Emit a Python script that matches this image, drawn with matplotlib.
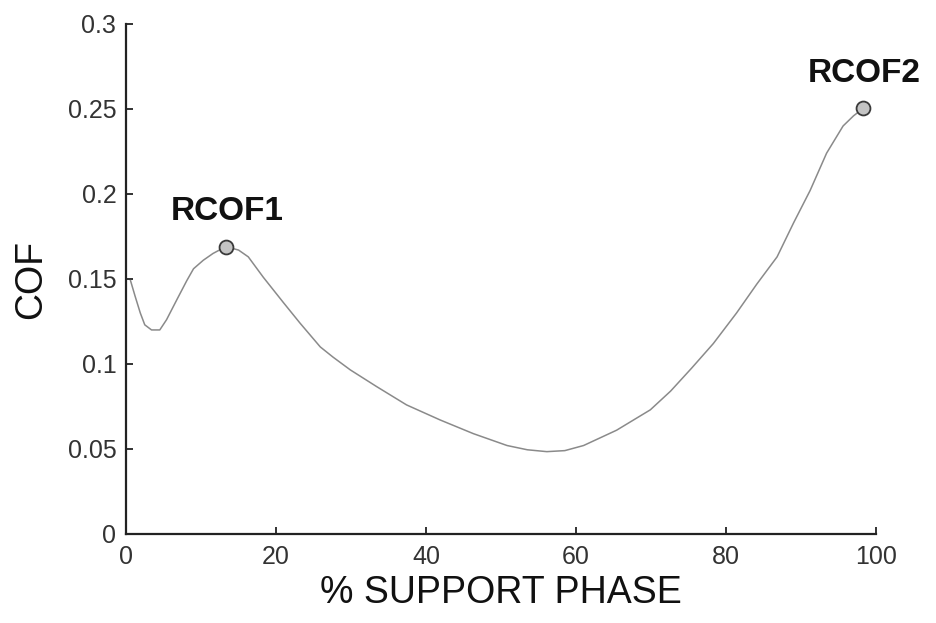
import matplotlib
matplotlib.use("Agg")
import matplotlib.pyplot as plt
from matplotlib.ticker import FuncFormatter

# COF over the support phase
phase = [0.6, 1.2, 1.9, 2.5, 3.4, 4.5, 5.4, 6.8, 8.1, 9.0, 10.3, 11.6, 13.3,
         15.0, 16.3, 18.3, 21.0, 23.2, 25.9, 27.6, 29.9, 33.4, 37.4, 41.9,
         46.3, 50.8, 53.5, 56.1, 58.5, 61.0, 65.4, 69.9, 72.6, 75.4, 78.3,
         81.4, 84.1, 86.8, 89.0, 91.2, 93.4, 95.6, 97.0, 98.3]
cof = [0.149, 0.140, 0.130, 0.123, 0.120, 0.120, 0.126, 0.138, 0.149, 0.156,
       0.161, 0.165, 0.169, 0.167, 0.163, 0.151, 0.136, 0.124, 0.110, 0.104,
       0.0965, 0.0867, 0.0759, 0.067, 0.059, 0.052, 0.0495, 0.0484, 0.049,
       0.052, 0.061, 0.073, 0.084, 0.0975, 0.112, 0.130, 0.147, 0.163, 0.183,
       0.202, 0.224, 0.240, 0.246, 0.2504]

# required COF peaks
peak_names = ["RCOF1", "RCOF2"]
peak_x = [13.3, 98.3]
peak_y = [0.169, 0.2504]

x_ticks = [0, 20, 40, 60, 80, 100]
y_ticks = [0, 0.05, 0.1, 0.15, 0.2, 0.25, 0.3]

plt.rcParams["font.family"] = ["Liberation Sans", "DejaVu Sans"]

fig = plt.figure(figsize=(9.37, 6.23), dpi=100)
ax = fig.add_axes([0.1345, 0.143, 0.8005, 0.8185])

ax.plot(phase, cof, color="#8a8a8a", linewidth=1.1, zorder=2,
        solid_joinstyle="round")
ax.plot(peak_x, peak_y, "o", markersize=10, markerfacecolor="#c4c4c4",
        markeredgecolor="#3a3a3a", markeredgewidth=1.3, zorder=3)

for name, px, py in zip(peak_names, peak_x, peak_y):
    ax.annotate(name, (px, py), xytext=(1, 25), textcoords="offset points",
                ha="center", va="center", fontsize=24, fontweight="bold",
                color="#111111", annotation_clip=False)

ax.set_xlim(0, 100)
ax.set_ylim(0, 0.3)
ax.set_xticks(x_ticks)
ax.set_yticks(y_ticks)
ax.yaxis.set_major_formatter(FuncFormatter(lambda v, p: f"{v:g}"))

for side in ["top", "right"]:
    ax.spines[side].set_visible(False)
for side in ["left", "bottom"]:
    ax.spines[side].set_linewidth(1.6)
    ax.spines[side].set_color("#222222")

ax.tick_params(direction="in", length=5, width=1.3, color="#222222",
               labelsize=18, labelcolor="#333333")
ax.tick_params(axis="y", pad=7)
ax.tick_params(axis="x", pad=8)

ax.set_xlabel("% SUPPORT PHASE", fontsize=27, color="#111111", labelpad=4)
ax.set_ylabel("COF", fontsize=27, color="#111111", labelpad=13)

fig.savefig("out.png", dpi=100)
